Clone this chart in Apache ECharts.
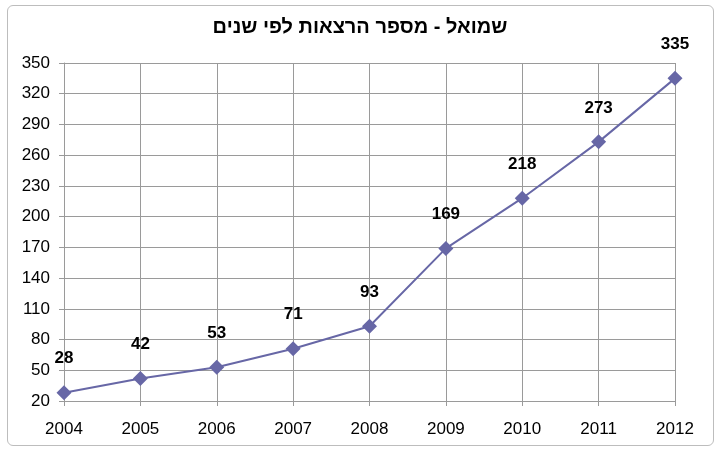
<!DOCTYPE html>
<html>
<head>
<meta charset="utf-8">
<script src="https://cdn.jsdelivr.net/npm/echarts@6/dist/echarts.min.js"></script>
<style>
  html, body { margin: 0; padding: 0; background: #fff; }
  #frame { position: absolute; left: 7px; top: 5px; width: 705px; height: 439px; border: 1px solid #bdbdbd; border-radius: 6px; }
  #chart { position: absolute; left: 0; top: 0; width: 720px; height: 450px; }
</style>
</head>
<body>
<div id="frame"></div>
<div id="chart"></div>
<script>
// 年份（X轴类目）
const years = ["2004", "2005", "2006", "2007", "2008", "2009", "2010", "2011", "2012"];
// 每年讲座数量
const lectures = [28, 42, 53, 71, 93, 169, 218, 273, 335];

const myChart = echarts.init(document.querySelector("#chart"));
const option = {
  animation: false,
  title: {
    text: "שמואל - מספר הרצאות לפי שנים",
    left: "center",
    top: 12,
    textStyle: { fontFamily: "Arial, Liberation Sans", fontSize: 20, fontWeight: "bold", color: "#000" },
  },
  grid: { left: 64, right: 45, top: 63, bottom: 49 },
  xAxis: {
    type: "category",
    data: years,
    boundaryGap: false,
    axisLine: { lineStyle: { color: "#9a9a9a" } },
    axisTick: { show: true, length: 5, alignWithLabel: true, lineStyle: { color: "#9a9a9a" } },
    axisLabel: { color: "#000", fontSize: 17, fontFamily: "Arial, Liberation Sans", margin: 20 },
    splitLine: { show: true, lineStyle: { color: "#9a9a9a" } },
  },
  yAxis: {
    type: "value",
    min: 20,
    max: 350,
    interval: 30,
    axisLine: { show: true, lineStyle: { color: "#9a9a9a" } },
    axisTick: { show: true, length: 5, lineStyle: { color: "#9a9a9a" } },
    axisLabel: { color: "#000", fontSize: 17, fontFamily: "Arial, Liberation Sans", margin: 14 },
    splitLine: { lineStyle: { color: "#9a9a9a" } },
  },
  series: [
    {
      type: "line",
      data: lectures,
      symbol: "diamond",
      symbolSize: 15,
      itemStyle: { color: "#6767a6" },
      lineStyle: { color: "#6767a6", width: 2 },
      label: {
        show: true,
        position: "top",
        distance: 18,
        color: "#000",
        fontSize: 17,
        fontWeight: "bold",
        fontFamily: "Arial, Liberation Sans",
      },
    },
  ],
};
myChart.setOption(option);
</script>
</body>
</html>
